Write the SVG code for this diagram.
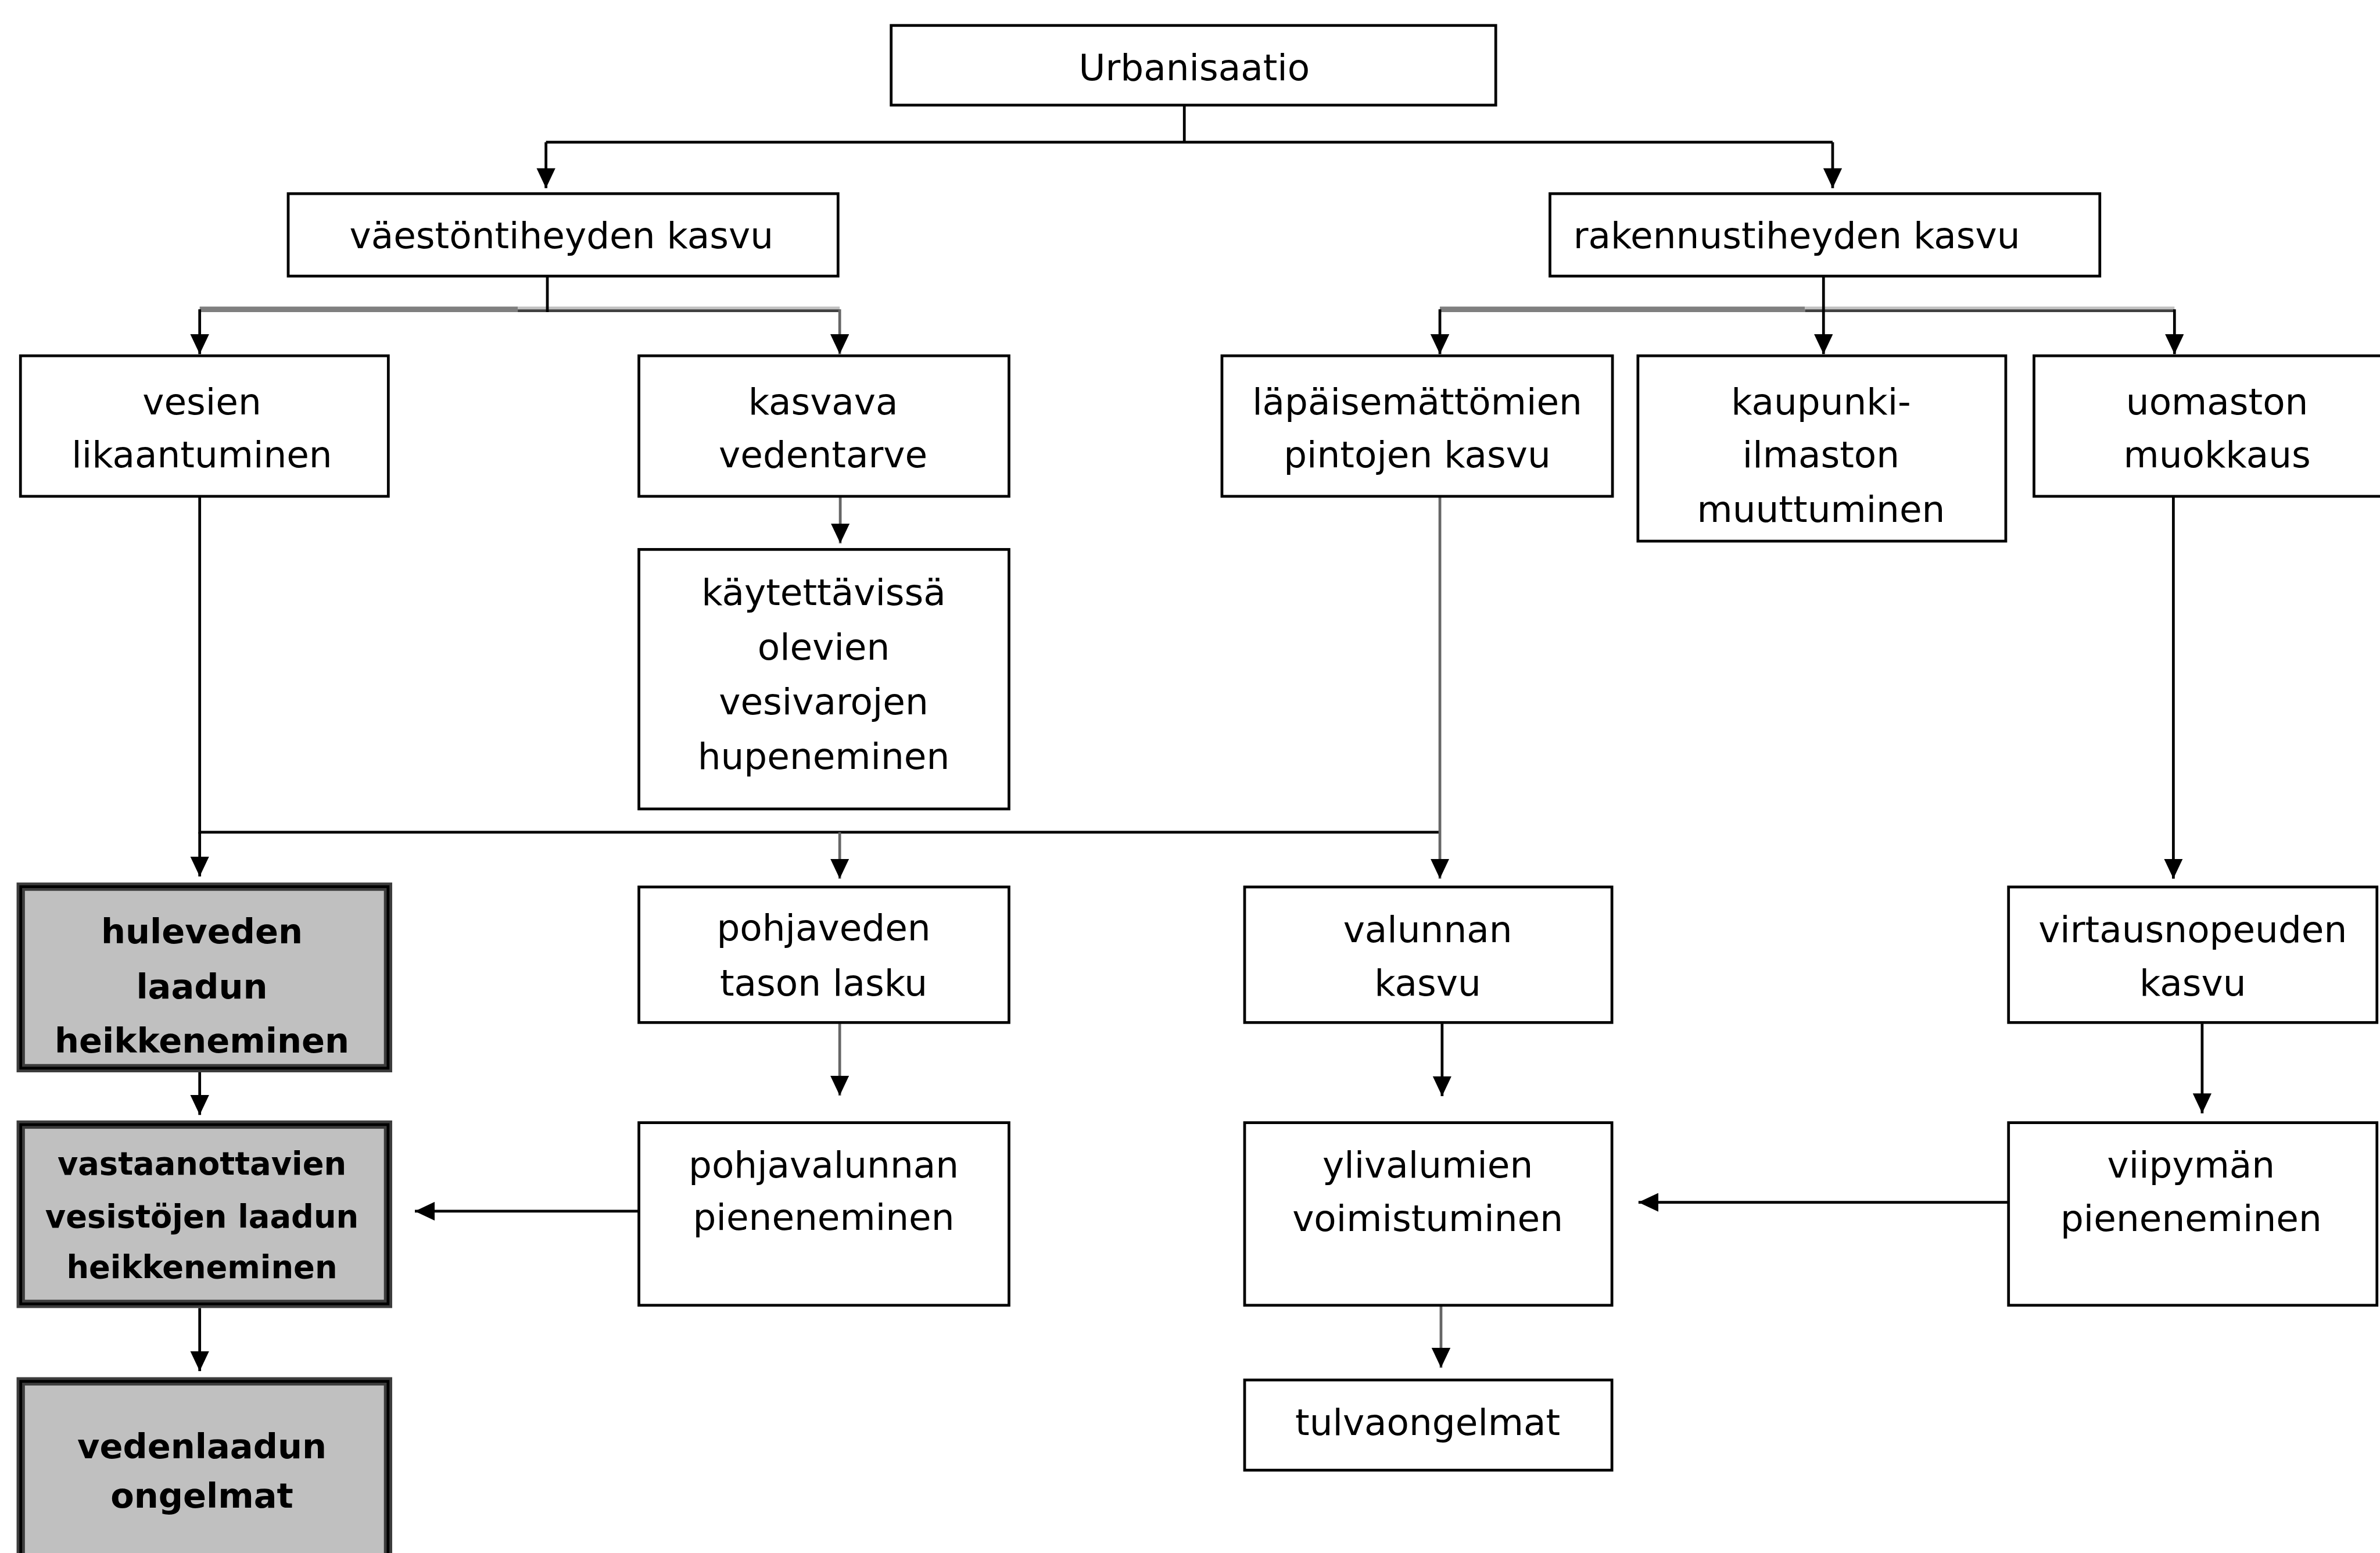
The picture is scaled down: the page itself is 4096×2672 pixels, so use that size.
<svg xmlns="http://www.w3.org/2000/svg" width="4096" height="2672" viewBox="0 0 4096 2672">
<style>
.box{fill:#fff;stroke:#000;stroke-width:5}
.gbox{fill:#c0c0c0;stroke:#3c3c3c;stroke-width:15}
.gin{fill:none;stroke:#000;stroke-width:5}
.t{font-family:"DejaVu Sans",Verdana,sans-serif;font-size:66px;fill:#000;text-anchor:middle}
.b{font-family:"DejaVu Sans",Verdana,sans-serif;font-size:62px;font-weight:bold;fill:#000;text-anchor:middle}
.b2{font-family:"DejaVu Sans",Verdana,sans-serif;font-size:57px;font-weight:bold;fill:#000;text-anchor:middle}
.c{fill:none;stroke:#000;stroke-width:5}
.cg{fill:none;stroke:#666;stroke-width:5}
.a{marker-end:url(#ah)}
</style>
<defs>
<marker id="ah" markerUnits="userSpaceOnUse" markerWidth="36" markerHeight="34" refX="36" refY="17" orient="auto">
<path d="M0,0 L36,17 L0,34 Z" fill="#000"/>
</marker>
</defs>
<rect width="4096" height="2672" fill="#fff"/>
<g transform="scale(0.952)">
<g id="connectors">
<path class="c" d="M2141,192 V257 M987,257 H3313"/>
<path class="c a" d="M987,257 V340"/>
<path class="c a" d="M3313,257 V340"/>
<path d="M361,559 H936" fill="none" stroke="#7f7f7f" stroke-width="10"/>
<path d="M936,556.5 H1518" fill="none" stroke="#c0c0c0" stroke-width="5"/>
<path d="M936,561.5 H1518" fill="none" stroke="#404040" stroke-width="5"/>
<path class="c" d="M989.5,500 V564"/>
<path class="c a" d="M361,559 V640"/>
<path class="cg a" d="M1518,559 V640"/>
<path d="M2603,559 H3263" fill="none" stroke="#7f7f7f" stroke-width="10"/>
<path d="M3263,556.5 H3931" fill="none" stroke="#c0c0c0" stroke-width="5"/>
<path d="M3263,561.5 H3931" fill="none" stroke="#404040" stroke-width="5"/>
<path class="c a" d="M3296.5,500 V640"/>
<path class="c a" d="M2603,559 V640"/>
<path class="c a" d="M3931,559 V640"/>
<path class="cg a" d="M1519,899 V982"/>
<path class="c" d="M361,899 V1504 H2603"/>
<path class="c a" d="M361,1504 V1584"/>
<path class="cg a" d="M1518,1504 V1588"/>
<path class="cg a" d="M2603,899 V1588"/>
<path class="c a" d="M3929,890 V1588"/>
<path class="c a" d="M361,1938 V2015"/>
<path class="c a" d="M361,2364 V2478"/>
<path class="cg a" d="M1518,1850 V1980"/>
<path class="c a" d="M1155,2189 H750"/>
<path class="c a" d="M2607,1850 V1981"/>
<path class="cg a" d="M2605,2361 V2472"/>
<path class="c a" d="M3981,1850 V2012"/>
<path class="c a" d="M3631,2173 H2962"/>
</g>
<g id="n-urbanisaatio"><rect class="box" x="1611" y="46" width="1093" height="144"/><text class="t" x="2159" y="145">Urbanisaatio</text></g>
<g id="n-vaestontiheyden"><rect class="box" x="521" y="350" width="994" height="149"/><text class="t" x="1015" y="449">väestöntiheyden kasvu</text></g>
<g id="n-rakennustiheyden"><rect class="box" x="2802" y="350" width="994" height="149"/><text class="t" x="3248" y="449">rakennustiheyden kasvu</text></g>
<g id="n-vesien"><rect class="box" x="37" y="643" width="665" height="254"/><text class="t" x="365" y="749">vesien</text><text class="t" x="365" y="845">likaantuminen</text></g>
<g id="n-kasvava"><rect class="box" x="1155" y="643" width="669" height="254"/><text class="t" x="1488" y="749">kasvava</text><text class="t" x="1488" y="845">vedentarve</text></g>
<g id="n-kaytettavissa"><rect class="box" x="1155" y="993" width="669" height="469"/><text class="t" x="1489" y="1093">käytettävissä</text><text class="t" x="1489" y="1192">olevien</text><text class="t" x="1489" y="1291">vesivarojen</text><text class="t" x="1489" y="1390">hupeneminen</text></g>
<g id="n-lapaisemattomien"><rect class="box" x="2209" y="643" width="706" height="254"/><text class="t" x="2562" y="749">läpäisemättömien</text><text class="t" x="2562" y="845">pintojen kasvu</text></g>
<g id="n-kaupunki"><rect class="box" x="2961" y="643" width="665" height="335"/><text class="t" x="3292" y="749">kaupunki-</text><text class="t" x="3292" y="845">ilmaston</text><text class="t" x="3292" y="943">muuttuminen</text></g>
<g id="n-uomaston"><rect class="box" x="3677" y="643" width="640" height="254"/><text class="t" x="4008" y="749">uomaston</text><text class="t" x="4008" y="845">muokkaus</text></g>
<g id="n-huleveden"><rect class="gbox" x="37.5" y="1602.5" width="664" height="328"/><rect class="gin" x="37.5" y="1602.5" width="664" height="328"/><text class="b" x="365" y="1705">huleveden</text><text class="b" x="365" y="1805">laadun</text><text class="b" x="365" y="1902">heikkeneminen</text></g>
<g id="n-pohjaveden"><rect class="box" x="1155" y="1603" width="669" height="245"/><text class="t" x="1489" y="1700">pohjaveden</text><text class="t" x="1489" y="1799">tason lasku</text></g>
<g id="n-valunnan"><rect class="box" x="2250" y="1603" width="664" height="245"/><text class="t" x="2581" y="1703">valunnan</text><text class="t" x="2581" y="1799">kasvu</text></g>
<g id="n-virtausnopeuden"><rect class="box" x="3631" y="1603" width="666" height="245"/><text class="t" x="3964" y="1703">virtausnopeuden</text><text class="t" x="3964" y="1799">kasvu</text></g>
<g id="n-vastaanottavien"><rect class="gbox" x="37.5" y="2032.5" width="664" height="324"/><rect class="gin" x="37.5" y="2032.5" width="664" height="324"/><text class="b2" x="365" y="2123">vastaanottavien</text><text class="b2" x="365" y="2218">vesistöjen laadun</text><text class="b2" x="365" y="2310">heikkeneminen</text></g>
<g id="n-pohjavalunnan"><rect class="box" x="1155" y="2029" width="669" height="330"/><text class="t" x="1489" y="2128">pohjavalunnan</text><text class="t" x="1489" y="2223">pieneneminen</text></g>
<g id="n-ylivalumien"><rect class="box" x="2250" y="2029" width="664" height="330"/><text class="t" x="2581" y="2128">ylivalumien</text><text class="t" x="2581" y="2225">voimistuminen</text></g>
<g id="n-viipyman"><rect class="box" x="3631" y="2029" width="666" height="330"/><text class="t" x="3961" y="2128">viipymän</text><text class="t" x="3961" y="2225">pieneneminen</text></g>
<g id="n-tulvaongelmat"><rect class="box" x="2250" y="2494" width="664" height="163"/><text class="t" x="2581" y="2593">tulvaongelmat</text></g>
<g id="n-vedenlaadun"><rect class="gbox" x="37.5" y="2496.5" width="664" height="340"/><rect class="gin" x="37.5" y="2496.5" width="664" height="340"/><text class="b" x="365" y="2636">vedenlaadun</text><text class="b" x="365" y="2725">ongelmat</text></g>
</g>
</svg>
